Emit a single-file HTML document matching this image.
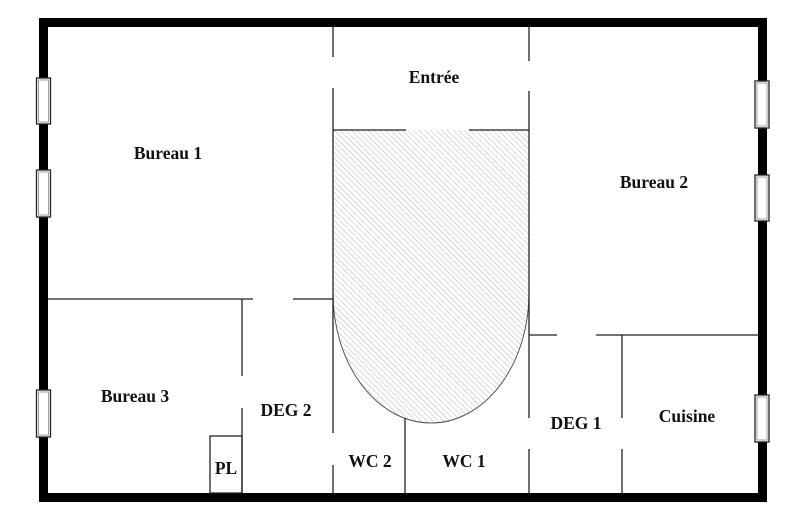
<!DOCTYPE html>
<html><head><meta charset="utf-8"><style>
html,body{margin:0;padding:0;background:#fff;}
svg{display:block;}
text{font-family:"Liberation Serif",serif;font-weight:bold;font-size:17.5px;fill:#111;text-anchor:middle;dominant-baseline:central;}
</style></head><body>
<svg width="800" height="530" viewBox="0 0 800 530" xmlns="http://www.w3.org/2000/svg">
<defs>
<pattern id="h" width="4" height="4" patternUnits="userSpaceOnUse" patternTransform="rotate(-45)">
<line x1="0" y1="0" x2="0" y2="4" stroke="#bbb" stroke-width="1"/>
</pattern>
</defs>
<rect width="800" height="530" fill="#fff"/>
<path d="M333,130 L529,130 L529,293 A98,130 0 0 1 333,293 Z" fill="url(#h)" stroke="none"/>
<path d="M529,293 A98,130 0 0 1 333,293" fill="none" stroke="#555" stroke-width="1"/>
<rect x="43.5" y="22.5" width="719" height="475" fill="none" stroke="#000" stroke-width="9"/>
<g stroke="#222" stroke-width="1.3" fill="none">
<line x1="333" y1="27" x2="333" y2="57"/>
<line x1="333" y1="88" x2="333" y2="433"/>
<line x1="333" y1="465" x2="333" y2="493"/>
<line x1="529" y1="27" x2="529" y2="61"/>
<line x1="529" y1="91" x2="529" y2="418"/>
<line x1="529" y1="449" x2="529" y2="493"/>
<line x1="333" y1="130" x2="406" y2="130"/>
<line x1="469" y1="130" x2="529" y2="130"/>
<line x1="48" y1="299" x2="253" y2="299"/>
<line x1="293" y1="299" x2="333" y2="299"/>
<line x1="242" y1="299" x2="242" y2="376"/>
<line x1="242" y1="408" x2="242" y2="493"/>
<rect x="210" y="436" width="32" height="57"/>
<line x1="405" y1="418" x2="405" y2="493"/>
<line x1="529" y1="335" x2="557" y2="335"/>
<line x1="596" y1="335" x2="758" y2="335"/>
<line x1="622" y1="335" x2="622" y2="418"/>
<line x1="622" y1="449" x2="622" y2="493"/>
</g>
<g fill="#fff" stroke="#222" stroke-width="1.3">
<rect x="36.5" y="78" width="14" height="46"/>
<rect x="36.5" y="170" width="14" height="47"/>
<rect x="36.5" y="390" width="14" height="47"/>
<rect x="755" y="81" width="14" height="47"/>
<rect x="755" y="175" width="14" height="46"/>
<rect x="755" y="395" width="14" height="47"/>
</g>
<g fill="none" stroke="#888" stroke-width="0.8">
<rect x="38.5" y="80" width="10" height="42"/>
<rect x="38.5" y="172" width="10" height="43"/>
<rect x="38.5" y="392" width="10" height="43"/>
<rect x="757" y="83" width="10" height="43"/>
<rect x="757" y="177" width="10" height="42"/>
<rect x="757" y="397" width="10" height="43"/>
</g>
<text x="168" y="153">Bureau 1</text>
<text x="434" y="77">Entrée</text>
<text x="654" y="182">Bureau 2</text>
<text x="135" y="396">Bureau 3</text>
<text x="286" y="410">DEG 2</text>
<text x="226" y="468">PL</text>
<text x="370" y="461">WC 2</text>
<text x="464" y="461">WC 1</text>
<text x="576" y="423">DEG 1</text>
<text x="687" y="416">Cuisine</text>
</svg>
</body></html>
